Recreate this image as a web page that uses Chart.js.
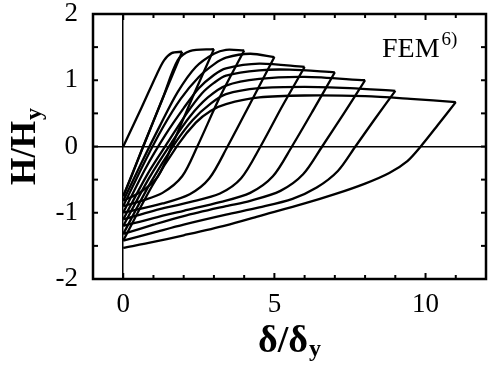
<!DOCTYPE html>
<html><head><meta charset="utf-8">
<script src="https://cdn.jsdelivr.net/npm/chart.js@4/dist/chart.umd.min.js"></script>
<style>html,body{margin:0;padding:0;background:#fff}canvas{display:block}</style>
</head><body>
<canvas id="c" width="488" height="367"></canvas>
<script>
// Tick labels
const xTickLabels = [0, 5, 10];
const yTickLabels = [-2, -1, 0, 1, 2];

// Hysteresis cycles: loading (from δ=0) and unloading (back to δ=0) branches
const c1LoadX = [0, 0.6, 1.1, 1.35, 1.6, 1.95];
const c1LoadH = [0, 0.58, 1.08, 1.3, 1.41, 1.43];
const c1UnldX = [1.95, 1.3, 0.66, 0.3, 0];
const c1UnldH = [1.43, 0.72, 0, -0.42, -0.75];

const c2LoadX = [0, 0.66, 1.3, 1.8, 2.2, 3.0];
const c2LoadH = [-0.75, 0, 0.72, 1.3, 1.44, 1.47];
const c2UnldX = [3.0, 2.3, 1.6, 1.15, 0.6, 0];
const c2UnldH = [1.47, 0.75, 0, -0.45, -0.68, -0.82];

const c3LoadX = [0, 0.6, 1.2, 1.8, 2.4, 3.0, 3.4, 4.0];
const c3LoadH = [-0.82, -0.25, 0.3, 0.82, 1.2, 1.4, 1.46, 1.45];
const c3UnldX = [4.0, 3.2, 2.45, 1.95, 1.3, 0.6, 0];
const c3UnldH = [1.45, 0.75, 0, -0.45, -0.7, -0.82, -0.9];

const c4LoadX = [0, 0.7, 1.3, 1.9, 2.5, 3.0, 3.4, 4.2, 5.0];
const c4LoadH = [-0.9, -0.24, 0.28, 0.72, 1.05, 1.24, 1.34, 1.4, 1.35];
const c4UnldX = [5.0, 4.2, 3.45, 2.85, 2.2, 1.3, 0];
const c4UnldH = [1.35, 0.65, 0, -0.48, -0.72, -0.86, -1.0];

const c5LoadX = [0, 0.75, 1.4, 2.0, 2.5, 3.0, 3.4, 4.5, 6.0];
const c5LoadH = [-1.0, -0.32, 0.18, 0.58, 0.88, 1.08, 1.18, 1.25, 1.2];
const c5UnldX = [6.0, 5.25, 4.54, 3.9, 3.2, 2.2, 1.0, 0];
const c5UnldH = [1.2, 0.6, 0, -0.48, -0.71, -0.84, -0.97, -1.1];

const c6LoadX = [0, 0.8, 1.5, 2.1, 2.6, 3.0, 3.4, 4.5, 5.5, 7.0];
const c6LoadH = [-1.1, -0.42, 0.08, 0.5, 0.8, 0.96, 1.07, 1.15, 1.16, 1.12];
const c6UnldX = [7.0, 6.3, 5.58, 4.95, 4.2, 3.2, 2.0, 1.0, 0];
const c6UnldH = [1.12, 0.56, 0, -0.45, -0.7, -0.84, -0.97, -1.08, -1.2];

const c7LoadX = [0, 0.85, 1.6, 2.2, 2.8, 3.4, 4.5, 6.0, 8.0];
const c7LoadH = [-1.2, -0.48, 0.06, 0.45, 0.74, 0.92, 1.02, 1.05, 1.0];
const c7UnldX = [8.0, 7.3, 6.58, 5.95, 5.2, 4.2, 3.4, 2.0, 1.0, 0];
const c7UnldH = [1.0, 0.5, 0, -0.42, -0.67, -0.82, -0.9, -1.05, -1.18, -1.32];

const c8LoadX = [0, 0.9, 1.7, 2.3, 2.9, 3.4, 4.5, 6.0, 7.5, 9.0];
const c8LoadH = [-1.32, -0.55, 0.04, 0.4, 0.65, 0.79, 0.88, 0.9, 0.88, 0.84];
const c8UnldX = [9.0, 8.3, 7.68, 7.1, 6.4, 5.6, 4.5, 3.4, 2.0, 1.0, 0];
const c8UnldH = [0.84, 0.4, 0, -0.37, -0.62, -0.79, -0.92, -1.03, -1.18, -1.3, -1.42];

const c9LoadX = [0, 0.95, 1.8, 2.4, 2.9, 3.4, 4.5, 6.0, 8.0, 9.5, 11.0];
const c9LoadH = [-1.42, -0.6, 0.02, 0.36, 0.54, 0.64, 0.74, 0.77, 0.76, 0.72, 0.67];
const c9UnldX = [11.0, 10.4, 9.84, 9.4, 8.8, 8.0, 7.0, 6.0, 4.5, 3.4, 2.0, 1.0, 0];
const c9UnldH = [0.67, 0.32, 0, -0.22, -0.4, -0.56, -0.72, -0.86, -1.05, -1.19, -1.34, -1.44, -1.53];

const branches = [
  [c1LoadX, c1LoadH], [c1UnldX, c1UnldH],
  [c2LoadX, c2LoadH], [c2UnldX, c2UnldH],
  [c3LoadX, c3LoadH], [c3UnldX, c3UnldH],
  [c4LoadX, c4LoadH], [c4UnldX, c4UnldH],
  [c5LoadX, c5LoadH], [c5UnldX, c5UnldH],
  [c6LoadX, c6LoadH], [c6UnldX, c6UnldH],
  [c7LoadX, c7LoadH], [c7UnldX, c7UnldH],
  [c8LoadX, c8LoadH], [c8UnldX, c8UnldH],
  [c9LoadX, c9LoadH], [c9UnldX, c9UnldH]
];

const SERIF = "'Liberation Serif', 'Times New Roman', serif";

const datasets = branches.map(([xs, hs]) => ({
  data: xs.map((x, i) => ({ x: x, y: hs[i] })),
  showLine: true,
  borderColor: '#000',
  borderWidth: 2.3,
  pointRadius: 0,
  tension: 0.3,
  fill: false
}));

const decor = {
  id: 'decor',
  afterDraw(chart) {
    const ctx = chart.ctx, a = chart.chartArea, xs = chart.scales.x, ys = chart.scales.y;
    ctx.save();
    ctx.strokeStyle = '#000';
    ctx.lineWidth = 2.5;
    ctx.strokeRect(a.left, a.top, a.right - a.left, a.bottom - a.top);
    ctx.lineWidth = 2;
    const seg = (x1, y1, x2, y2) => { ctx.beginPath(); ctx.moveTo(x1, y1); ctx.lineTo(x2, y2); ctx.stroke(); };
    xs.ticks.forEach(t => {
      if (t.value <= xs.min || t.value >= xs.max) return;
      const p = xs.getPixelForValue(t.value);
      const len = xTickLabels.includes(t.value) ? 6 : 4;
      seg(p, a.bottom, p, a.bottom - len);
      seg(p, a.top, p, a.top + len);
    });
    ys.ticks.forEach(t => {
      if (t.value <= ys.min || t.value >= ys.max) return;
      const p = ys.getPixelForValue(t.value);
      seg(a.left, p, a.left + 5, p);
      seg(a.right, p, a.right - 5, p);
    });
    ctx.fillStyle = '#000';
    ctx.textBaseline = 'alphabetic';
    ctx.textAlign = 'left';
    // y title
    ctx.save();
    ctx.translate(35, 147);
    ctx.rotate(-Math.PI / 2);
    ctx.font = 'bold 35px ' + SERIF;
    const w1 = ctx.measureText('H/H').width;
    ctx.font = 'bold 24px ' + SERIF;
    const w2 = ctx.measureText('y').width;
    const s = -(w1 + w2) / 2;
    ctx.font = 'bold 35px ' + SERIF;
    ctx.fillText('H/H', s, 0);
    ctx.font = 'bold 24px ' + SERIF;
    ctx.fillText('y', s + w1 + 1, 6);
    ctx.restore();
    // x title
    ctx.font = 'bold 38px ' + SERIF;
    const v1 = ctx.measureText('δ/δ').width;
    ctx.font = 'bold 24px ' + SERIF;
    const v2 = ctx.measureText('y').width;
    const sx = 289 - (v1 + v2) / 2;
    ctx.font = 'bold 38px ' + SERIF;
    ctx.fillText('δ/δ', sx, 352);
    ctx.font = 'bold 24px ' + SERIF;
    ctx.fillText('y', sx + v1 + 1, 356);
    // annotation
    ctx.font = '28px ' + SERIF;
    ctx.fillText('FEM', 382, 57);
    const fw = ctx.measureText('FEM').width;
    ctx.font = '19px ' + SERIF;
    ctx.fillText('6)', 382 + fw + 2, 45);
    ctx.restore();
  }
};

const noPad = s => { s.paddingTop = 0; s.paddingBottom = 0; s.paddingLeft = 0; s.paddingRight = 0; };

new Chart(document.getElementById('c'), {
  type: 'scatter',
  data: { datasets: datasets },
  options: {
    responsive: false,
    animation: false,
    devicePixelRatio: 1,
    layout: { padding: { top: 14, right: 2, left: 0, bottom: 0 } },
    plugins: { legend: { display: false }, tooltip: { enabled: false } },
    scales: {
      x: {
        type: 'linear', min: -1, max: 12,
        ticks: {
          stepSize: 1, autoSkip: false, maxRotation: 0, padding: 12, color: '#000',
          font: { family: SERIF, size: 27, lineHeight: 1 },
          callback: v => xTickLabels.includes(v) ? String(v) : ''
        },
        grid: { drawTicks: false, lineWidth: 1.5, color: c => (c.tick && c.tick.value === 0) ? '#000' : 'rgba(0,0,0,0)' },
        border: { display: false },
        afterFit: s => { s.height = 88; noPad(s); }
      },
      y: {
        type: 'linear', min: -2, max: 2,
        ticks: {
          stepSize: 0.5, autoSkip: false, padding: 15, color: '#000',
          font: { family: SERIF, size: 27, lineHeight: 1 },
          callback: v => yTickLabels.includes(v) ? String(v) : ''
        },
        grid: { drawTicks: false, lineWidth: 1.5, color: c => (c.tick && c.tick.value === 0) ? '#000' : 'rgba(0,0,0,0)' },
        border: { display: false },
        afterFit: s => { s.width = 93; noPad(s); }
      }
    }
  },
  plugins: [decor]
});
</script>
</body></html>
